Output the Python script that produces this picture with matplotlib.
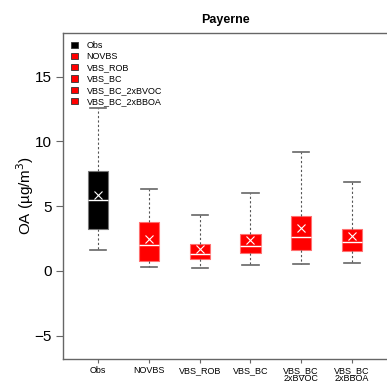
import matplotlib
matplotlib.use("Agg")
import matplotlib.pyplot as plt
from matplotlib.patches import Patch

plt.rcParams['font.family'] = ['Liberation Sans', 'DejaVu Sans']

# box statistics (ug/m3)
names = ["Obs", "NOVBS", "VBS_ROB", "VBS_BC", "VBS_BC_2xBVOC", "VBS_BC_2xBBOA"]
tick_labels = ["Obs", "NOVBS", "VBS_ROB", "VBS_BC", "VBS_BC\n2xBVOC", "VBS_BC\n2xBBOA"]
whislo = [1.6, 0.3, 0.25, 0.45, 0.5, 0.6]
q1 = [3.2, 0.8, 0.95, 1.35, 1.6, 1.55]
med = [5.45, 2.0, 1.3, 1.95, 2.65, 2.25]
q3 = [7.75, 3.8, 2.05, 2.85, 4.25, 3.25]
whishi = [12.6, 6.3, 4.35, 6.0, 9.15, 6.85]
means = [5.9, 2.45, 1.7, 2.4, 3.35, 2.7]
colors = ["black", "red", "red", "red", "red", "red"]
edges = ["#777777", "#ff7070", "#ff7070", "#ff7070", "#ff7070", "#ff7070"]

stats = []
for i in range(len(names)):
    stats.append({"whislo": whislo[i], "q1": q1[i], "med": med[i], "q3": q3[i],
                  "whishi": whishi[i], "mean": means[i], "fliers": []})

fig = plt.figure(figsize=(3.87, 3.81), dpi=100)
ax = fig.add_axes([0.163, 0.058, 0.837, 0.856])

positions = list(range(1, len(names) + 1))
bp = ax.bxp(stats, positions=positions, widths=0.4, patch_artist=True,
            showmeans=True,
            whiskerprops=dict(color="#555555", linestyle=(0, (2, 2)), linewidth=0.8),
            capprops=dict(color="#666666", linewidth=1.2),
            medianprops=dict(color="white", linewidth=1.0),
            meanprops=dict(marker="x", markeredgecolor="white", markersize=6,
                           markeredgewidth=0.8, linestyle="none"))
# caps a bit narrower than the boxes
for cap in bp['caps']:
    x0, x1 = cap.get_xdata()
    c = (x0 + x1) / 2
    cap.set_xdata([c - 0.16, c + 0.16])
for box, fc, ec in zip(bp['boxes'], colors, edges):
    box.set_facecolor(fc)
    box.set_edgecolor(ec)
    box.set_linewidth(0.8)

ax.set_xlim(0.31, 6.69)
ax.set_ylim(-6.8, 18.4)
ax.set_yticks([-5, 0, 5, 10, 15])
ax.set_yticklabels(["\u22125", "0", "5", "10", "15"])
ax.set_xticks(positions)
ax.set_xticklabels(tick_labels, fontsize=6.5, linespacing=0.9)
ax.tick_params(axis='y', labelsize=11, length=5, width=0.8, color="#666666", pad=3)
ax.tick_params(axis='x', length=3, width=0.8, color="#666666", pad=2)

for s in ['left', 'bottom', 'top']:
    ax.spines[s].set_color("#666666")
    ax.spines[s].set_linewidth(1.0)
ax.spines['right'].set_visible(False)

ax.set_ylabel("OA (\u00b5g/m$^3$)", fontsize=11)
ax.yaxis.set_label_coords(-0.083, 0.5)
ax.set_title("Payerne", fontsize=9, fontweight="bold", pad=7)

handles = [Patch(facecolor=c, edgecolor="#333333", linewidth=0.6) for c in colors]
ax.legend(handles, names, loc="upper left", frameon=False, fontsize=6.5,
          handlelength=0.7, handleheight=0.7, handletextpad=1.0,
          labelspacing=0.25, borderaxespad=0.5, bbox_to_anchor=(0.0, 1.0))

fig.savefig("out.png", dpi=100)
